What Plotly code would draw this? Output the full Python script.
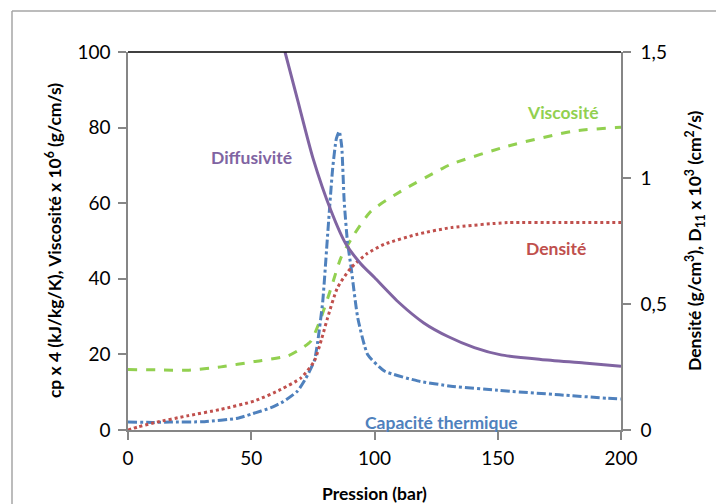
import plotly.graph_objects as go

# Capacité thermique (cp x 4), left axis
cp_p = [0, 10, 17, 31, 44.5, 50, 58, 63, 68.8, 72, 75.6, 77, 79, 81, 83, 84.5, 85.7, 86.7, 87.7, 89, 90.5, 93.2, 97.2, 104, 117.5, 131, 150, 175, 194.6, 200]
cp_v = [2.1, 2.0, 2.1, 2.2, 3.1, 4.2, 5.9, 7.5, 10.3, 13.5, 18.3, 23.5, 34, 51.8, 69, 77, 79, 75, 60.5, 50, 43, 29.7, 20, 15.6, 13, 11.6, 10.5, 9.3, 8.4, 8.2]

# Viscosité x 1e6, left axis
vis_p = [0, 12, 24, 37.7, 51.2, 64.8, 70.2, 74.2, 78.3, 82.4, 86.4, 91.8, 98.6, 110.8, 127, 131, 154, 181, 198, 200]
vis_v = [16.0, 15.9, 15.8, 16.7, 18.1, 19.6, 21.5, 23.5, 29.7, 37.6, 45.6, 51.8, 57.9, 63.2, 69.0, 70.3, 75.1, 79.1, 80.0, 80.1]

# Densité, right axis
den_p = [0, 4, 10.7, 24, 37.7, 51.2, 62, 70.2, 75.6, 78.5, 81, 85, 90.5, 97, 104, 117.5, 131, 154, 175, 200]
den_v = [0.0, 0.012, 0.029, 0.056, 0.082, 0.115, 0.161, 0.207, 0.274, 0.36, 0.446, 0.565, 0.644, 0.70, 0.737, 0.777, 0.803, 0.823, 0.823, 0.823]

# Diffusivité D11 x 1e3, right axis
dif_p = [63.7, 68.9, 75, 82.4, 88.4, 94.5, 100, 110, 120, 130, 140.5, 151.3, 167.5, 185, 200]
dif_v = [1.5, 1.306, 1.08, 0.869, 0.738, 0.659, 0.605, 0.505, 0.425, 0.37, 0.327, 0.298, 0.28, 0.266, 0.253]

x_ticks = [0, 50, 100, 150, 200]
y_ticks = [0, 20, 40, 60, 80, 100]
y2_ticks = [0, 0.5, 1, 1.5]
y2_labels = ["0", "0,5", "1", "1,5"]

PURPLE = "#8064A2"
GREEN = "#92D050"
RED = "#C0504D"
BLUE = "#4F81BD"
FONT = "Lato"

fig = go.Figure()
fig.add_trace(go.Scatter(x=vis_p, y=vis_v, mode="lines", line=dict(color=GREEN, width=3, dash="dash", shape="spline", smoothing=0.6), yaxis="y"))
fig.add_trace(go.Scatter(x=cp_p, y=cp_v, mode="lines", line=dict(color=BLUE, width=3, dash="dashdot", shape="spline", smoothing=0.5), yaxis="y"))
fig.add_trace(go.Scatter(x=den_p, y=den_v, mode="lines", line=dict(color=RED, width=3, dash="dot", shape="spline", smoothing=0.6), yaxis="y2"))
fig.add_trace(go.Scatter(x=dif_p, y=dif_v, mode="lines", line=dict(color=PURPLE, width=3, shape="spline", smoothing=0.6), yaxis="y2"))

axis_common = dict(showgrid=False, zeroline=False, showline=True, linecolor="#868686", linewidth=1.5,
                   ticks="outside", ticklen=8, tickcolor="#868686", tickwidth=1.5,
                   tickfont=dict(family=FONT, size=19, color="#000000"))

# page body adds ~7px offset; compensate so plot area sits at x 127-620, y 51-429
fig.update_layout(
    width=724, height=504,
    margin=dict(l=120, r=111, t=44, b=82),
    paper_bgcolor="white", plot_bgcolor="white",
    showlegend=False,
    font=dict(family=FONT),
    xaxis=dict(range=[0, 200], tickvals=x_ticks, ticklabelstandoff=2, **axis_common),
    yaxis=dict(range=[0, 100], tickvals=y_ticks, ticklabelstandoff=4, **axis_common),
    yaxis2=dict(range=[0, 1.5], tickvals=y2_ticks, ticktext=y2_labels, overlaying="y", side="right",
                ticklabelstandoff=6, **axis_common),
)

ann_font = dict(family=FONT, size=17.5, color="#000000")
fig.add_annotation(xref="paper", yref="paper", x=-0.152, y=0.5, xanchor="center", yanchor="middle",
                   textangle=-90, showarrow=False,
                   text="<b>cp x 4 (kJ/kg/K), Viscosité x 10<sup>6</sup> (g/cm/s)</b>", font=ann_font)
fig.add_annotation(xref="paper", yref="paper", x=1.150, y=0.5, xanchor="center", yanchor="middle",
                   textangle=-90, showarrow=False,
                   text="<b>Densité (g/cm<sup>3</sup>), D<sub>11</sub> x 10<sup>3</sup> (cm<sup>2</sup>/s)</b>", font=ann_font)
fig.add_annotation(xref="paper", yref="paper", x=0.5, y=-0.1667, xanchor="center", yanchor="middle",
                   showarrow=False, text="<b>Pression (bar)</b>", font=ann_font)

lab = lambda c: dict(family=FONT, size=17.5, color=c)
fig.add_annotation(x=50, y=72, xref="x", yref="y", text="<b>Diffusivité</b>", showarrow=False, font=lab(PURPLE))
fig.add_annotation(x=176.5, y=84.1, xref="x", yref="y", text="<b>Viscosité</b>", showarrow=False, font=lab(GREEN))
fig.add_annotation(x=173.6, y=48.1, xref="x", yref="y", text="<b>Densité</b>", showarrow=False, font=lab(RED))
fig.add_annotation(x=127, y=1.9, xref="x", yref="y", text="<b>Capacité thermique</b>", showarrow=False, font=lab(BLUE))

# top border of plot area (black)
fig.add_shape(type="line", xref="paper", yref="paper", x0=0, x1=1, y0=1, y1=1, line=dict(color="black", width=1.5))
# outer chart frame (left and top)
fig.add_shape(type="line", xref="paper", yref="paper", x0=-0.2353, x1=-0.2353, y0=-0.25, y1=1.1085, line=dict(color="#A6A6A6", width=1.5))
fig.add_shape(type="line", xref="paper", yref="paper", x0=-0.2353, x1=1.25, y0=1.1085, y1=1.1085, line=dict(color="#A6A6A6", width=1.5))

fig.write_html("out.html")
